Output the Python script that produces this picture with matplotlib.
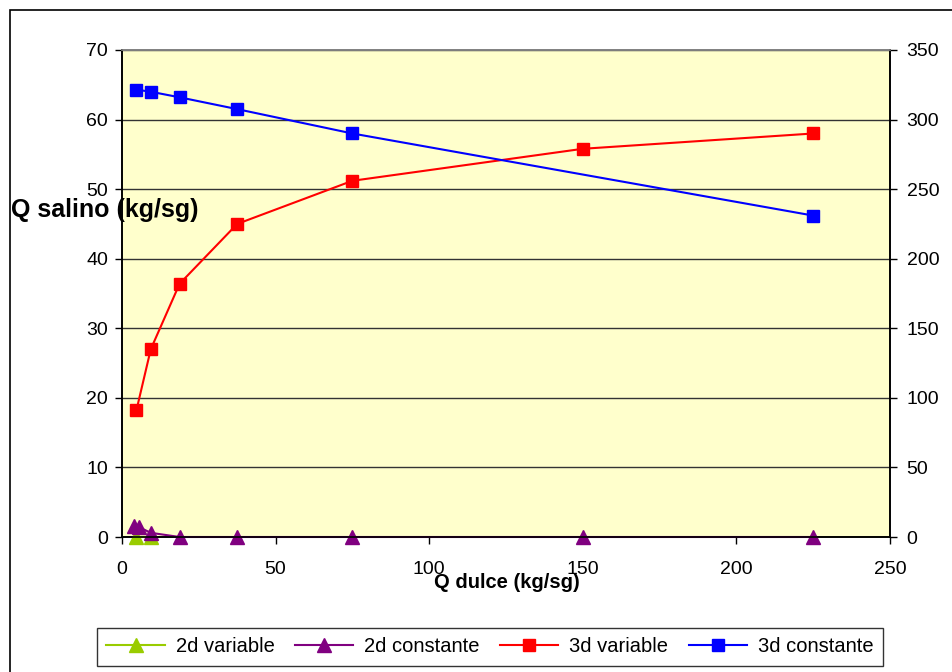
import matplotlib
matplotlib.use("Agg")
import matplotlib.pyplot as plt
from matplotlib.patches import Rectangle

plt.rcParams['font.family'] = ['Liberation Sans', 'DejaVu Sans']

x_2dv = [4.69, 9.375]
y_2dv = [0.0, 0.0]
x_2dc = [3.75, 5.6, 9.375, 18.75, 37.5, 75, 150, 225]
y_2dc = [1.6, 1.4, 0.6, 0.0, 0.0, 0.0, 0.0, 0.0]
x_3dv = [4.69, 9.375, 18.75, 37.5, 75, 150, 225]
y_3dv = [91, 135, 182, 225, 256, 279, 290]
x_3dc = [4.69, 9.375, 18.75, 37.5, 75, 225]
y_3dc = [321.5, 320, 316, 307.5, 290, 231]

fig = plt.figure(figsize=(9.53, 6.72), dpi=100)
fig.patches.append(Rectangle((10/953, -0.05), 1.1, (672-10)/672 + 0.05, transform=fig.transFigure,
                             fill=False, edgecolor='black', linewidth=1.2, zorder=0))
ax = fig.add_axes([122/953, 1-537/672, (890-122)/953, (537-50)/672])
ax.set_facecolor('#FFFFCC')
ax2 = ax.twinx()

l1, = ax.plot(x_2dv, y_2dv, color='#99CC00', marker='^', markersize=10, linewidth=1.5, clip_on=False, zorder=3)
l2, = ax.plot(x_2dc, y_2dc, color='#800080', marker='^', markersize=10, linewidth=1.5, clip_on=False, zorder=4)
l3, = ax2.plot(x_3dv, y_3dv, color='#FF0000', marker='s', markersize=8.5, linewidth=1.5, clip_on=False)
l4, = ax2.plot(x_3dc, y_3dc, color='#0000FF', marker='s', markersize=8.5, linewidth=1.5, clip_on=False)

ax.set_xlim(0, 250)
ax.set_ylim(0, 70)
ax2.set_ylim(0, 350)
ax.set_xticks(range(0, 251, 50))
ax.set_yticks(range(0, 71, 10))
ax2.set_yticks(range(0, 351, 50))
ax.grid(axis='y', color='#333333', linewidth=1.0)
ax.set_axisbelow(True)

for a in (ax, ax2):
    a.tick_params(labelsize=14, length=5, width=1, direction='out', color='black')
    a.spines['top'].set_color('#808080')
    a.spines['left'].set_color('black')
    a.spines['right'].set_color('black')
    a.spines['bottom'].set_color('black')
    for s in a.spines.values():
        s.set_linewidth(1.2)
ax.tick_params(axis='x', pad=12)
ax.tick_params(axis='y', pad=5)
ax2.tick_params(axis='y', pad=7)

fig.text(11/953, 1-210/672, 'Q salino (kg/sg)', fontsize=18, fontweight='bold', va='center', ha='left')
fig.text(507/953, 1-582/672, 'Q dulce (kg/sg)', fontsize=14.5, fontweight='bold', va='center', ha='center')

leg = fig.legend([l1, l2, l3, l4], ['2d variable', '2d constante', '3d variable', '3d constante'],
                 loc='center', bbox_to_anchor=(490/953, 1-647/672), ncol=4, fontsize=14.5,
                 frameon=True, fancybox=False, edgecolor='black', handlelength=2.9,
                 columnspacing=1.0, handletextpad=0.55, borderpad=0.45)
leg.get_frame().set_linewidth(1.0)

fig.savefig('out.png', dpi=100)
